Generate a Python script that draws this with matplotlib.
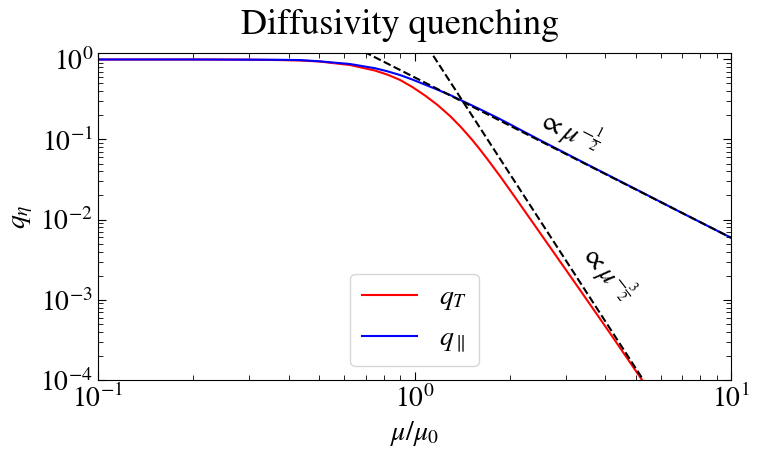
import matplotlib
matplotlib.use("Agg")
import matplotlib.pyplot as plt

plt.rcParams['font.family'] = ['STIXGeneral', 'DejaVu Sans']
plt.rcParams['mathtext.fontset'] = 'stix'

# valores
mu_par = [0.1, 0.2, 0.3, 0.37, 0.435, 0.5, 0.55, 0.625, 0.75, 0.82, 0.9, 0.985, 1.08, 1.18,
          1.295, 1.43, 1.6, 1.862, 2.5, 3.5, 5.0, 7.0, 10.0]
q_par = [0.99, 0.99, 0.985, 0.982, 0.974, 0.94, 0.909, 0.87, 0.77, 0.706, 0.633, 0.556, 0.48, 0.417,
         0.357, 0.296, 0.24, 0.179, 0.097, 0.049, 0.0239, 0.0121, 0.00593]

mu_T = [0.1, 0.2, 0.3, 0.37, 0.435, 0.5, 0.55, 0.625, 0.75, 0.82, 0.9, 0.985, 1.08, 1.18, 1.295,
        1.4, 1.517, 1.6, 1.692, 1.87, 2.063, 2.632, 3.321, 4.132, 5.233, 6.0, 10.0]
q_T = [0.99, 0.99, 0.985, 0.975, 0.96, 0.935, 0.895, 0.845, 0.72, 0.642, 0.55, 0.448, 0.351, 0.2695, 0.195,
       0.1426, 0.0996, 0.0769, 0.0578, 0.034, 0.0197, 0.0050, 0.00135, 3.9e-4, 1.0e-4, 4.5e-5, 2.0e-6]

# asintotas (rectas en log-log)
mu_a1 = [0.6, 10.0]
q_a1 = [1.647, 0.00593]
mu_a2 = [1.05, 6.0]
q_a2 = [1.875, 4.6e-5]

fig = plt.figure(figsize=(7.6, 4.59), dpi=100)
ax = fig.add_axes([0.129, 0.172, 0.833, 0.713])

ax.plot(mu_T, q_T, color='red', lw=1.5, label=r'$q_T$')
ax.plot(mu_par, q_par, color='blue', lw=1.5, label=r'$q_\parallel$')
ax.plot(mu_a1, q_a1, 'k--', lw=1.5)
ax.plot(mu_a2, q_a2, 'k--', lw=1.5)

ax.set_xscale('log')
ax.set_yscale('log')
ax.set_xlim(0.1, 10)
ax.set_ylim(1e-4, 1.2)

ax.text(3.1, 0.13, r'$\propto\mu^{-\frac{1}{2}}$', fontsize=20, rotation=-27,
        ha='center', va='center', rotation_mode='anchor')
ax.text(4.06, 0.0022, r'$\propto\mu^{-\frac{3}{2}}$', fontsize=20, rotation=-52,
        ha='center', va='center', rotation_mode='anchor')

ax.tick_params(which='both', direction='in', top=True, right=True, labelsize=20)
ax.tick_params(which='major', length=6)
ax.tick_params(which='minor', length=3.5)

ax.set_xlabel(r'$\mu/\mu_0$', fontsize=20)
ax.set_ylabel(r'$q_\eta$', fontsize=20)
fig.text(0.526, 0.945, 'Diffusivity quenching', fontsize=26, ha='center', va='center')

ax.legend(loc='lower center', fontsize=20)

fig.savefig('out.png', dpi=100)
